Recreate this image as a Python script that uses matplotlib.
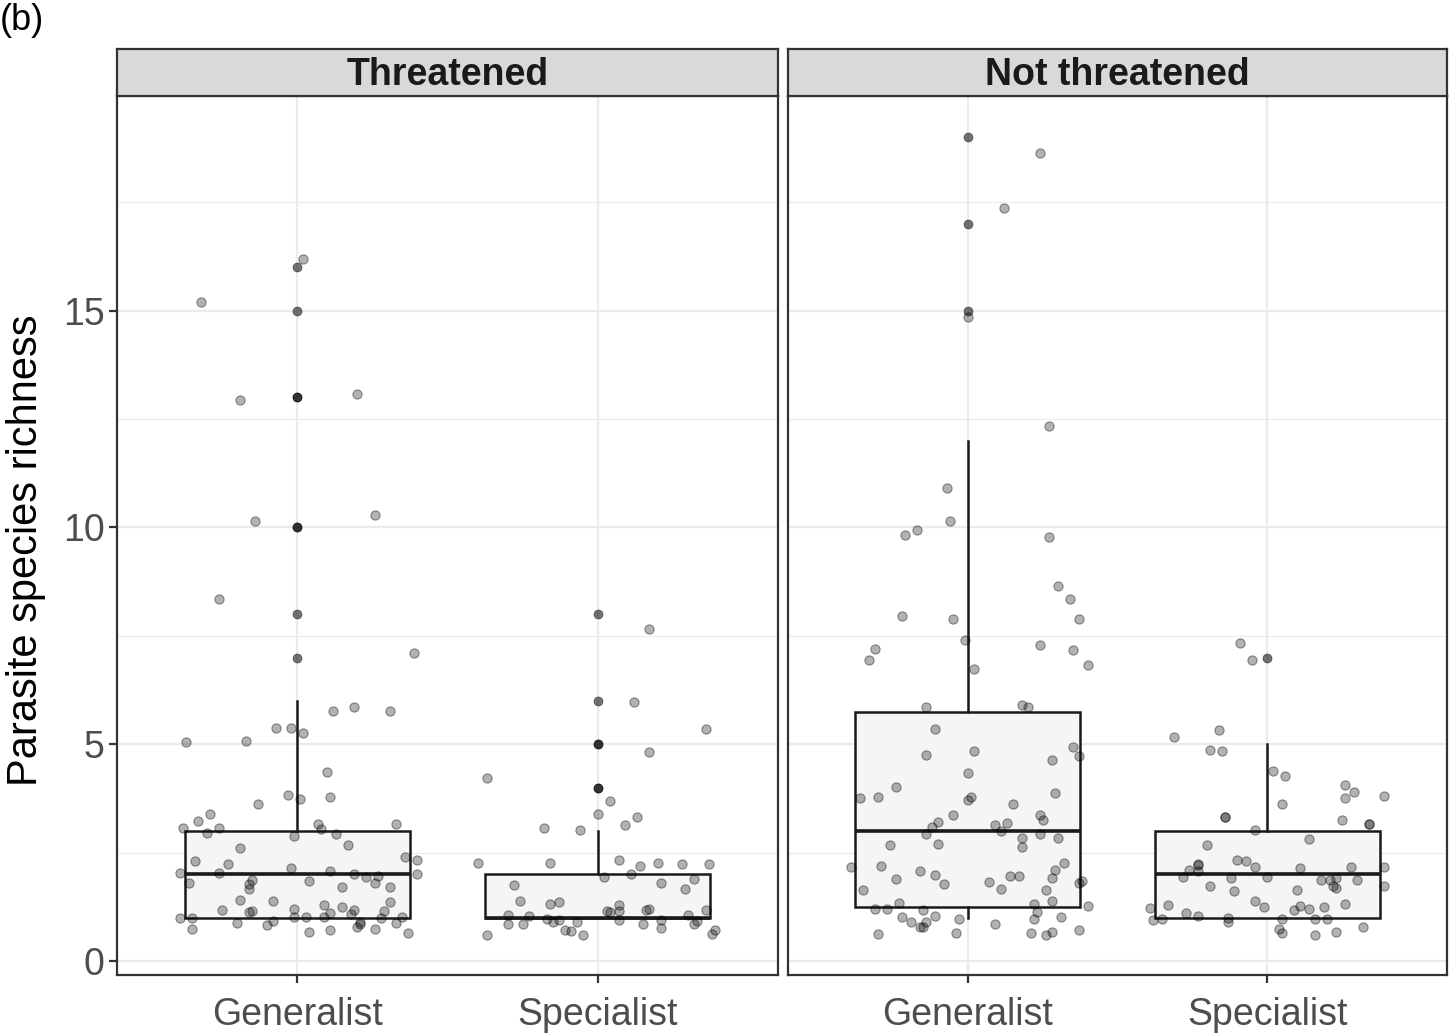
import matplotlib.pyplot as plt

plt.rcParams['font.family'] = ['Liberation Sans', 'DejaVu Sans']

# Categories / facets
facets = ['Threatened', 'Not threatened']
groups = ['Generalist', 'Specialist']
y_ticks = [0, 5, 10, 15]

# Box statistics (q1, median, q3, whisker low, whisker high)
thr_gen_box = [1, 2, 3, 1, 6]
thr_spe_box = [1, 1, 2, 1, 3]
not_gen_box = [1.25, 3, 5.75, 1, 12]
not_spe_box = [1, 2, 3, 1, 5]

thr_gen_out = [7, 8, 10, 10, 13, 13, 15, 16]
thr_spe_out = [4, 4, 5, 5, 6, 8]
not_gen_out = [15, 17, 19]
not_spe_out = [7]

# Jittered points: horizontal offset from category centre, y value
thr_gen_dx = [-0.32, -0.19, 0.20, -0.14, 0.26, -0.26, 0.39, 0.02,
              -0.37, -0.17, -0.07, -0.02, 0.02, 0.12, 0.19, 0.31, 0.10, -0.03,
              0.01, 0.11, -0.13, -0.29, -0.33, -0.38, -0.26, -0.30, 0.07, 0.08,
              0.13, -0.01, 0.33, -0.19, 0.17, -0.34, -0.23, 0.36, 0.40, -0.39,
              -0.26, -0.02, 0.11, 0.19, 0.23, 0.27, 0.40, -0.36, -0.15, -0.16,
              -0.16, 0.04, 0.26, 0.15, 0.31, -0.19, -0.08, 0.31, -0.25, -0.01,
              0.09, 0.15, -0.16, -0.15, 0.11, 0.19, 0.29, -0.39, -0.35, -0.01,
              0.03, 0.09, 0.18, 0.28, 0.35, -0.35, -0.20, -0.10, -0.08, 0.21,
              0.21, 0.20, 0.04, 0.11, 0.26, 0.33, 0.37]
thr_gen_y = [15.2, 12.95, 13.07, 10.16, 10.28, 8.36, 7.1, 16.2,
             5.05, 5.07, 5.38, 5.38, 5.25, 5.77, 5.86, 5.76, 4.35, 3.82,
             3.73, 3.78, 3.62, 3.40, 3.22, 3.06, 3.07, 2.95, 3.16, 3.04,
             2.94, 2.89, 3.16, 2.60, 2.67, 2.30, 2.23, 2.40, 2.34, 2.04,
             2.03, 2.14, 2.07, 2.00, 1.94, 1.96, 2.00, 1.81, 1.88, 1.79,
             1.67, 1.84, 1.81, 1.70, 1.71, 1.40, 1.39, 1.36, 1.18, 1.20,
             1.29, 1.25, 1.14, 1.16, 1.11, 1.18, 1.15, 0.99, 0.99, 1.01,
             1.01, 1.02, 1.08, 0.99, 1.01, 0.74, 0.87, 0.84, 0.93, 0.90,
             0.85, 0.79, 0.67, 0.71, 0.74, 0.88, 0.65]

thr_spe_dx = [0.17, 0.12, 0.36, 0.17, -0.37, 0.04, 0.00, 0.13, 0.09, -0.18,
              -0.06, -0.40, -0.16, 0.07, 0.14, 0.20, 0.28, 0.37, 0.11, 0.02,
              -0.28, 0.21, 0.32, 0.29, -0.26, -0.16, -0.13, 0.07, 0.07, 0.03,
              0.04, 0.16, 0.17, 0.36, -0.30, -0.23, 0.30, -0.17, -0.15, -0.13,
              -0.07, 0.07, 0.15, 0.21, 0.21, 0.33, 0.32, -0.30, -0.25, -0.11,
              -0.09, -0.05, -0.37, 0.39, 0.38]
thr_spe_y = [7.67, 5.98, 5.36, 4.82, 4.22, 3.69, 3.39, 3.33, 3.13, 3.07,
             3.03, 2.26, 2.27, 2.33, 2.20, 2.27, 2.24, 2.23, 2.02, 1.94,
             1.75, 1.81, 1.89, 1.67, 1.38, 1.31, 1.36, 1.30, 1.16, 1.15,
             1.13, 1.18, 1.21, 1.17, 1.06, 1.04, 1.07, 0.96, 0.91, 0.95,
             0.90, 0.95, 0.86, 0.94, 0.77, 0.93, 0.85, 0.85, 0.85, 0.72,
             0.70, 0.61, 0.61, 0.71, 0.63]

not_gen_dx = [0.24, 0.12, 0.00, 0.27, -0.07, -0.06, -0.17, -0.21, 0.27, -0.22,
              -0.05, 0.30, 0.34, 0.37, 0.35, 0.40, 0.24, -0.31, -0.33, -0.01,
              0.02, 0.18, 0.20, -0.14, -0.11, -0.14, 0.02, 0.35, 0.37, 0.28,
              0.00, -0.24, -0.36, -0.30, 0.01, 0.00, 0.29, 0.15, -0.05, 0.24,
              0.25, -0.10, -0.12, 0.09, 0.13, 0.11, -0.14, 0.24, 0.18, 0.30,
              -0.26, -0.10, 0.18, -0.39, -0.29, 0.32, 0.29, -0.16, -0.11, -0.24,
              -0.08, 0.07, 0.14, 0.17, 0.28, 0.37, 0.38, -0.35, 0.11, 0.26,
              -0.23, 0.22, 0.28, -0.31, -0.27, -0.15, 0.23, 0.40, -0.22, -0.11,
              -0.03, 0.22, 0.31, -0.19, -0.14, -0.16, -0.15, 0.09, -0.30, -0.04,
              0.21, 0.26, 0.28, 0.37]
not_gen_y = [18.64, 17.37, 14.86, 12.35, 10.92, 10.14, 9.95, 9.82, 9.79, 7.97,
             7.90, 8.64, 8.36, 7.88, 7.17, 6.82, 7.28, 7.19, 6.94, 7.40,
             6.73, 5.91, 5.86, 5.85, 5.36, 4.76, 4.85, 4.94, 4.73, 4.63,
             4.33, 4.02, 3.76, 3.78, 3.79, 3.71, 3.87, 3.62, 3.37, 3.36,
             3.26, 3.21, 3.09, 3.14, 3.18, 3.01, 2.92, 2.93, 2.83, 2.83,
             2.67, 2.69, 2.63, 2.17, 2.20, 2.26, 2.10, 2.07, 1.98, 1.89,
             1.79, 1.83, 1.97, 1.97, 1.92, 1.81, 1.84, 1.64, 1.67, 1.64,
             1.34, 1.32, 1.38, 1.21, 1.21, 1.17, 1.13, 1.26, 1.01, 1.04,
             0.96, 0.97, 1.01, 0.90, 0.91, 0.79, 0.78, 0.85, 0.63, 0.64,
             0.64, 0.61, 0.68, 0.71]

not_spe_dx = [-0.09, -0.05, -0.31, -0.16, -0.19, -0.15, 0.02, 0.06, 0.26, 0.29,
              0.26, 0.39, 0.05, -0.14, -0.14, 0.25, 0.34, 0.34, -0.04, 0.14,
              -0.20, -0.10, -0.07, -0.23, -0.23, -0.26, -0.23, -0.04, 0.11, 0.28,
              0.39, -0.28, -0.12, 0.00, 0.18, 0.21, 0.23, 0.30, 0.22, 0.23,
              -0.19, -0.11, 0.10, 0.39, -0.04, -0.01, 0.11, 0.09, 0.14, 0.19,
              0.26, -0.33, -0.39, -0.27, -0.23, -0.13, -0.13, 0.05, 0.16, 0.20,
              -0.38, -0.35, 0.32, 0.04, 0.05, 0.16, 0.23]
not_spe_y = [7.33, 6.94, 5.16, 5.34, 4.88, 4.85, 4.39, 4.26, 4.07, 3.89,
             3.77, 3.80, 3.63, 3.33, 3.32, 3.26, 3.16, 3.16, 3.02, 2.81,
             2.67, 2.33, 2.30, 2.25, 2.21, 2.11, 2.08, 2.16, 2.14, 2.17,
             2.17, 1.93, 1.91, 1.95, 1.86, 1.87, 1.91, 1.87, 1.74, 1.69,
             1.74, 1.61, 1.64, 1.73, 1.38, 1.24, 1.27, 1.17, 1.20, 1.25,
             1.32, 1.29, 1.22, 1.11, 1.05, 1.00, 0.91, 0.96, 0.98, 0.97,
             0.94, 0.96, 0.79, 0.74, 0.65, 0.60, 0.67]

panels = [
    [(thr_gen_box, thr_gen_out, thr_gen_dx, thr_gen_y),
     (thr_spe_box, thr_spe_out, thr_spe_dx, thr_spe_y)],
    [(not_gen_box, not_gen_out, not_gen_dx, not_gen_y),
     (not_spe_box, not_spe_out, not_spe_dx, not_spe_y)],
]

fig = plt.figure(figsize=(14.52, 10.35), dpi=100)
W, H = 1452, 1035
axes_px = [(117, 778), (788, 1447)]
top_px, bot_px, strip_top = 96, 975, 49

edge = '#333333'
for i, (x0, x1) in enumerate(axes_px):
    ax = fig.add_axes([x0 / W, 1 - bot_px / H, (x1 - x0) / W, (bot_px - top_px) / H])
    ax.set_ylim(-0.32, 19.95)
    ax.set_yticks(y_ticks)
    ax.set_yticks([2.5, 7.5, 12.5, 17.5], minor=True)
    ax.grid(True, which='major', color='#ebebeb', lw=1.6)
    ax.grid(True, which='minor', axis='y', color='#ebebeb', lw=0.9)
    ax.set_axisbelow(True)
    for s in ax.spines.values():
        s.set_color(edge)
        s.set_linewidth(1.6)
    ax.tick_params(axis='both', which='major', length=6, width=1.6, color=edge,
                   labelsize=27, labelcolor='#4d4d4d', pad=3)
    ax.tick_params(axis='y', which='minor', length=0)
    ax.tick_params(axis='x', pad=10)
    if i == 0:
        ax.set_ylabel('Parasite species richness', fontsize=30)
        ax.yaxis.set_label_coords(-0.107, 0.483)
    else:
        ax.tick_params(axis='y', which='major', left=False, labelleft=False)

    stats = []
    for box, out, dx, ys in panels[i]:
        q1, med, q3, lo, hi = box
        stats.append(dict(q1=q1, med=med, q3=q3, whislo=lo, whishi=hi, fliers=out))
    ax.bxp(stats, positions=[1, 2], widths=0.75, patch_artist=True, showcaps=False,
           boxprops=dict(facecolor='#f5f5f5', edgecolor='#1a1a1a', lw=1.8),
           medianprops=dict(color='#1a1a1a', lw=2.6),
           whiskerprops=dict(color='#1a1a1a', lw=1.8),
           flierprops=dict(marker='o', markersize=6.5, markerfacecolor=(0, 0, 0, 0.55),
                           markeredgecolor=(0, 0, 0, 0.55), markeredgewidth=0.5))
    for k, (box, out, dx, ys) in enumerate(panels[i]):
        xs = [k + 1 + d for d in dx]
        ax.scatter(xs, ys, s=44, facecolor=(0, 0, 0, 0.3), edgecolor=(0, 0, 0, 0.4),
                   linewidths=0.8, zorder=4)
    ax.set_xlim(0.4, 2.6)
    ax.set_xticks([1, 2])
    ax.set_xticklabels(groups)

    # facet strip
    sax = fig.add_axes([x0 / W, 1 - top_px / H, (x1 - x0) / W, (top_px - strip_top) / H])
    sax.set_facecolor('#d9d9d9')
    sax.set_xticks([])
    sax.set_yticks([])
    for s in sax.spines.values():
        s.set_color(edge)
        s.set_linewidth(1.6)
    sax.text(0.5, 0.45, facets[i], ha='center', va='center', fontsize=27,
             fontweight='bold', color='#1a1a1a', transform=sax.transAxes)

fig.text(0.0, 1 - 20 / H, '(b)', fontsize=26, va='center', ha='left')

fig.savefig('out.png', dpi=100)
